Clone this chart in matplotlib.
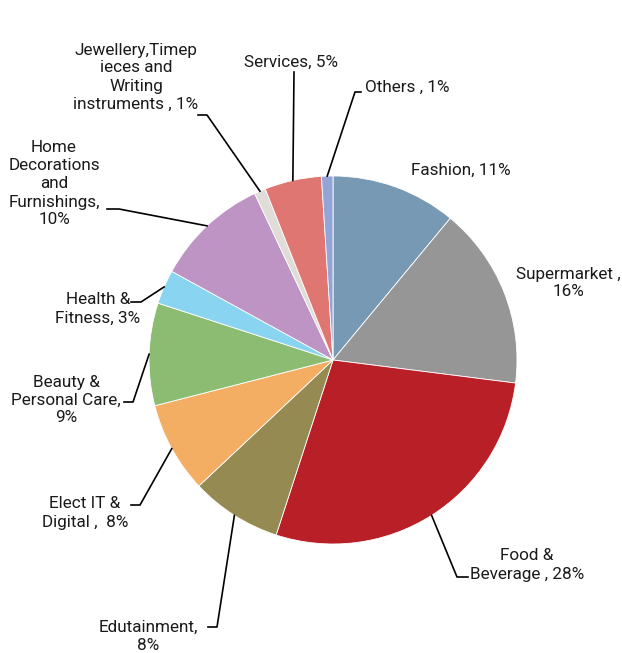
import matplotlib
matplotlib.use("Agg")
import matplotlib.pyplot as plt
import numpy as np

plt.rcParams["font.family"] = ["Roboto", "DejaVu Sans"]

# Share of retail space by category (%)
categories = ["Fashion, ", "Supermarket ,\n", "Food &\nBeverage , ", "Edutainment,\n",
              "Elect IT &\nDigital ,  ", "Beauty &\nPersonal Care,\n", "Health &\nFitness, ",
              "Home\nDecorations\nand\nFurnishings,\n",
              "Jewellery,Timep\nieces and\nWriting\ninstruments , ",
              "Services, ", "Others , "]
shares = [11, 16, 28, 8, 8, 9, 3, 10, 1, 5, 1]
colors = ["#7799b4", "#969696", "#b81f27", "#958b52", "#f3ae64", "#8bbc72",
          "#88d4f1", "#bd94c4", "#e0dcd7", "#e07672", "#93a4d7"]

# label text centre and leader elbow, in pixels from the top-left corner
label_pos = [(461, 170), (568, 283), (527, 565), (148, 636), (85, 513), (66, 400),
             (98, 309), (54, 184), (136, 77), (291, 62), (407, 87)]
elbows = [None, None, [(457, 577), (468, 577)], [(217, 627), (208, 627)],
          [(140, 505), (131, 505)], [(133, 402), (124, 402)], [(141, 302), (131, 302)],
          [(119, 209), (107, 209)], [(207, 115), (198, 115)], [(294, 72)],
          [(355, 92), (361, 92)]]

W, H = 622, 653
cx, cy, r = 333, 360, 184

fig = plt.figure(figsize=(W / 100, H / 100), dpi=100)
ax = fig.add_axes([0, 0, 1, 1])
ax.pie(shares, colors=colors, center=(cx, H - cy), radius=r, startangle=90,
       counterclock=False, wedgeprops=dict(edgecolor="white", linewidth=0.6))
ax.set_xlim(0, W)
ax.set_ylim(0, H)
ax.set_aspect("equal")
ax.axis("off")

cum = np.cumsum([0] + shares)
total = sum(shares)
for i, (name, v) in enumerate(zip(categories, shares)):
    x, y = label_pos[i]
    ax.text(x, H - y, f"{name}{v}%", ha="center", va="center", fontsize=12.3,
            color="#1a1a1a", linespacing=1.25)
    if elbows[i] is None:
        continue
    mid = (cum[i] + v / 2) / total * 2 * np.pi
    sx, sy = cx + r * np.sin(mid), cy - r * np.cos(mid)
    pts = [(sx, sy)] + elbows[i]
    ax.plot([p[0] for p in pts], [H - p[1] for p in pts], color="black", lw=1.2)

fig.savefig("out.png", dpi=100)
